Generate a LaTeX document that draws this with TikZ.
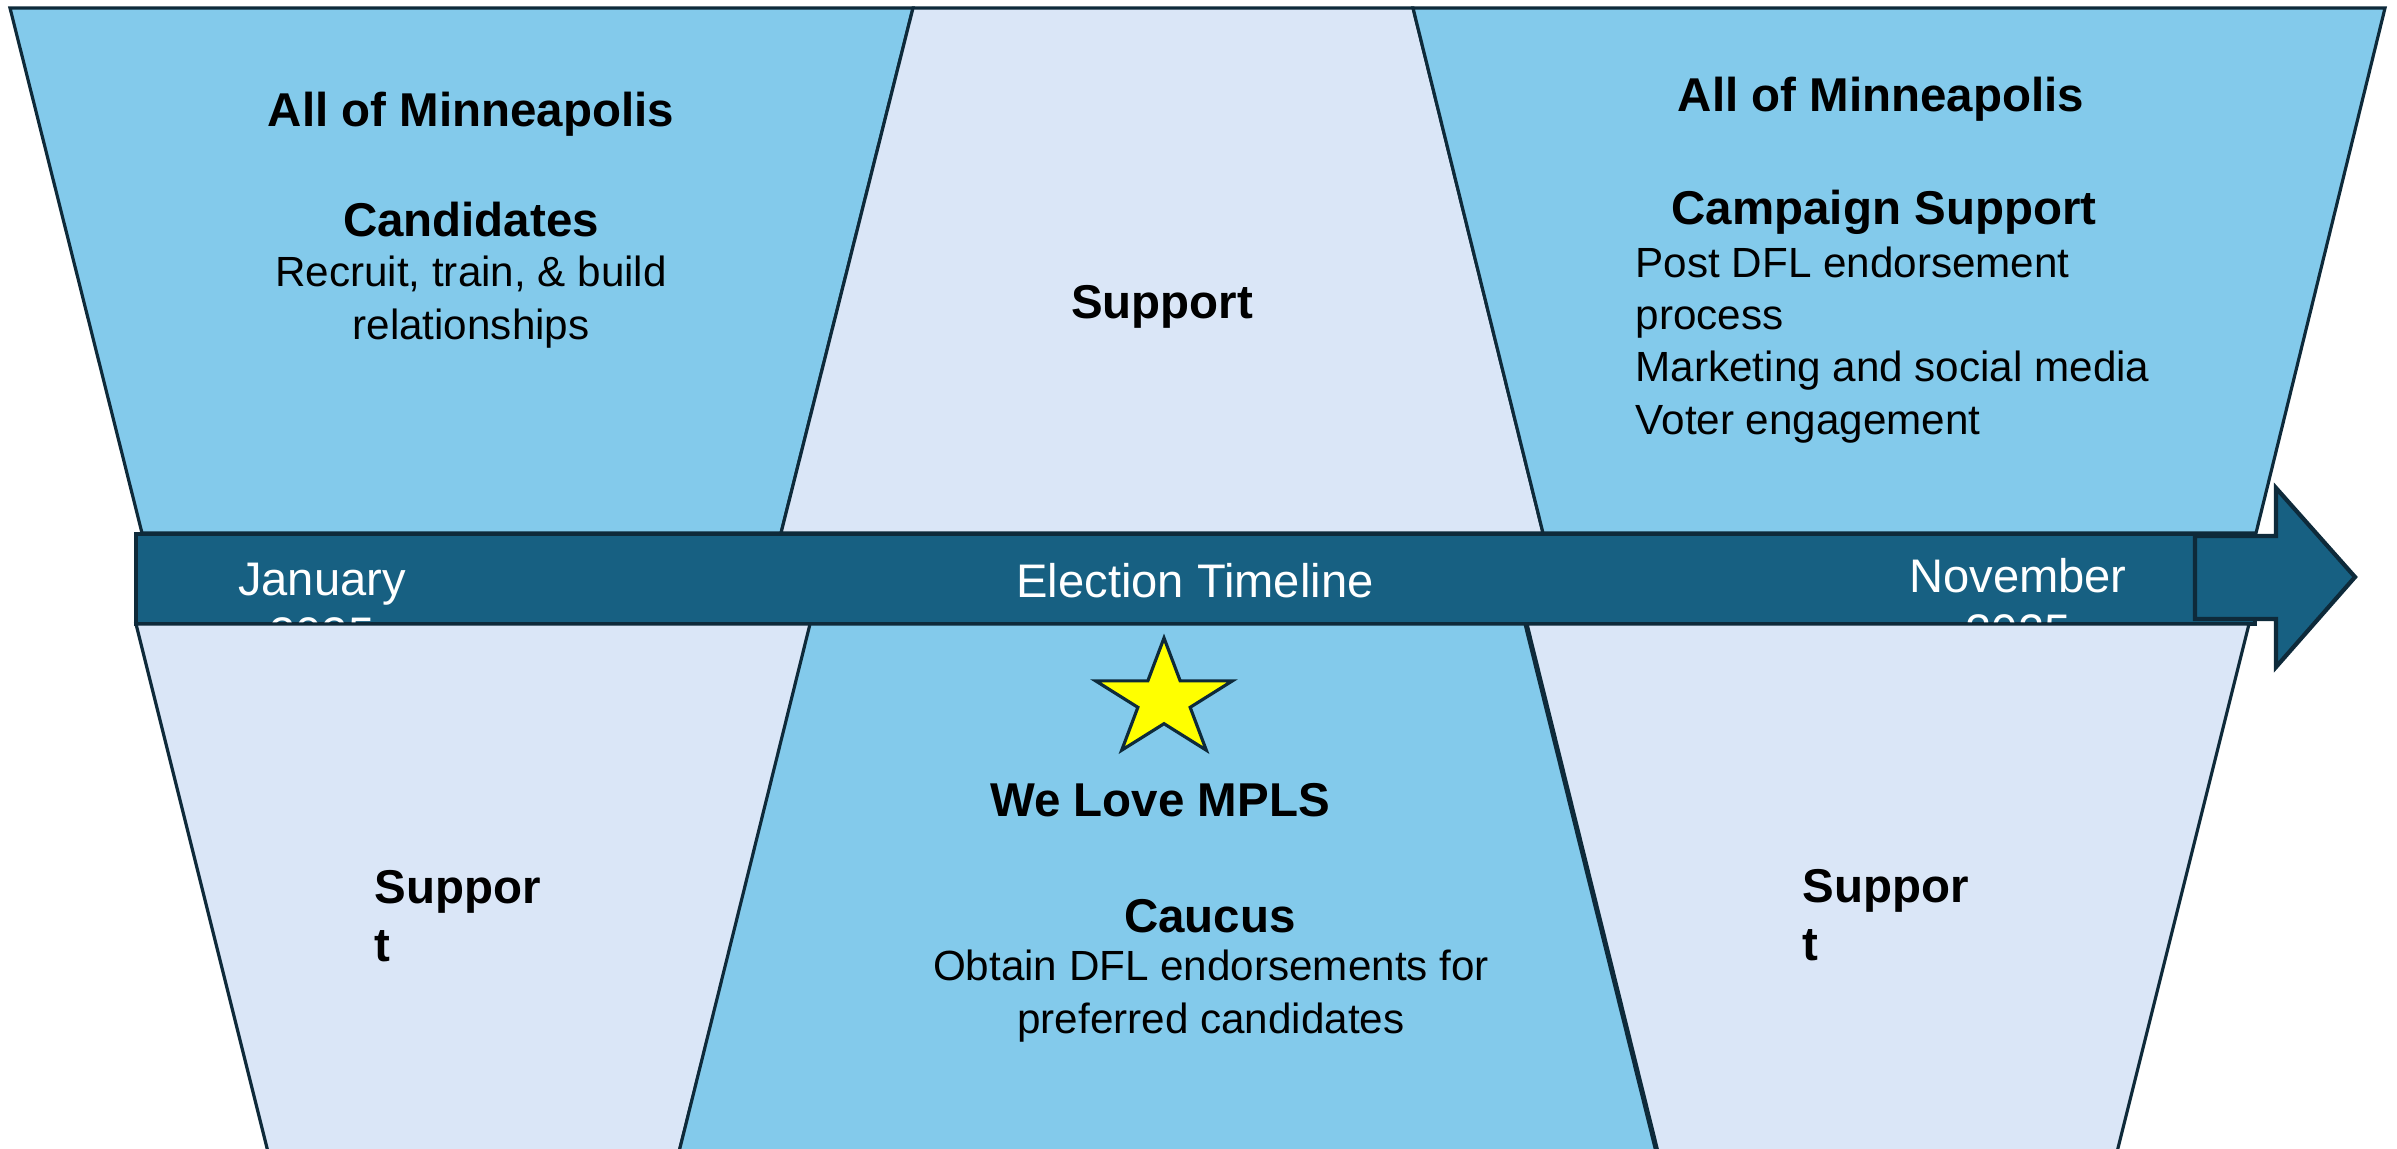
\documentclass[tikz,border=0pt]{standalone}
\usepackage{fontspec}
\setmainfont{Liberation Sans}
\usetikzlibrary{positioning}

\definecolor{paneblue}{HTML}{83CAEB}
\definecolor{panelight}{HTML}{DAE6F7}
\definecolor{barteal}{HTML}{176082}
\definecolor{edgenavy}{HTML}{0E2A3A}
\definecolor{staryellow}{HTML}{FFFF00}

\begin{document}
\begin{tikzpicture}[
    x = 0.01cm, y = -0.01cm, % one unit per pixel, y going down
    pane/.style = {draw = edgenavy, line width = 0.9pt},
    panedark/.style = {pane, fill = paneblue},
    panelite/.style = {pane, fill = panelight},
    bar/.style = {draw = edgenavy, line width = 1.2pt, fill = barteal},
    title/.style = {inner sep = 0pt, anchor = base, align = center,
        font = \fontsize{13.5}{16.4}\selectfont\bfseries},
    body/.style = {inner sep = 0pt, anchor = base, align = center,
        font = \fontsize{12}{14.8}\selectfont},
    month/.style = {inner sep = 0pt, anchor = base, align = center,
        text = white, font = \fontsize{13.4}{15.5}\selectfont}
    ]

    \useasboundingbox (0,0) rectangle (2397,1148);
    \clip (0,0) rectangle (2397,1148);

    % upper row of panes
    \draw[panedark] (10,8) -- (913,8) -- (781,533) -- (142,533) -- cycle;
    \draw[panelite] (913,8) -- (1413,8) -- (1543,533) -- (781,533) -- cycle;
    \draw[panedark] (1413,8) -- (2385,8) -- (2256,533) -- (1543,533) -- cycle;

    % multi-line nodes sit on the baseline of their last line
    \node[title] (tl-title) at (471,126) {All of Minneapolis};
    \node[title] (tl-head) at (471,236) {Candidates};
    \node[body] (tl-body) at (471,339) {Recruit, train, \& build\\relationships};

    \node[title] (tm-label) at (1162,318) {Support};

    \node[title] (tr-title) at (1881,111) {All of Minneapolis};
    \node[title] (tr-head) at (1884,224) {Campaign Support};
    \node[body, anchor = base west, align = left] (tr-body) at (1635,434)
        {Post DFL endorsement\\process\\Marketing and social media\\Voter engagement};

    % timeline bar and arrow
    \draw[bar] (136,534) rectangle (2255,624);
    \draw[bar] (2195,536) -- (2276,536) -- (2276,488) -- (2355,577)
        -- (2276,667) -- (2276,619) -- (2195,619) -- cycle;

    \node[month] (jan) at (322,650) {January\\2025};
    \node[month] (elect) at (1195,597) {Election Timeline};
    \node[month] (nov) at (2018,647) {November\\2025};

    % lower row of panes (they hide the second line of the months)
    \draw[panelite] (136,624) -- (812,624) -- (677,1160) -- (270,1160) -- cycle;
    \draw[panedark] (810,624) -- (1525,624) -- (1658,1160) -- (677,1160) -- cycle;
    \draw[panelite] (1527,624) -- (2249,624) -- (2115,1160) -- (1660,1160) -- cycle;

    \node[title, anchor = base west, align = left] (bl-label) at (374,961) {Suppor\\t};

    \begin{scope}[shift = {(1164,700)}, xscale = 1.16]
        \draw[pane, fill = staryellow] (270:62) -- (306:23.7) -- (342:62) -- (18:23.7)
            -- (54:62) -- (90:23.7) -- (126:62) -- (162:23.7) -- (198:62)
            -- (234:23.7) -- cycle;
    \end{scope}

    \node[title] (bm-title) at (1160,816) {We Love MPLS};
    \node[title] (bm-head) at (1210,932) {Caucus};
    \node[body] (bm-body) at (1211,1033) {Obtain DFL endorsements for\\preferred candidates};

    \node[title, anchor = base west, align = left] (br-label) at (1802,960) {Suppor\\t};
\end{tikzpicture}
\end{document}
